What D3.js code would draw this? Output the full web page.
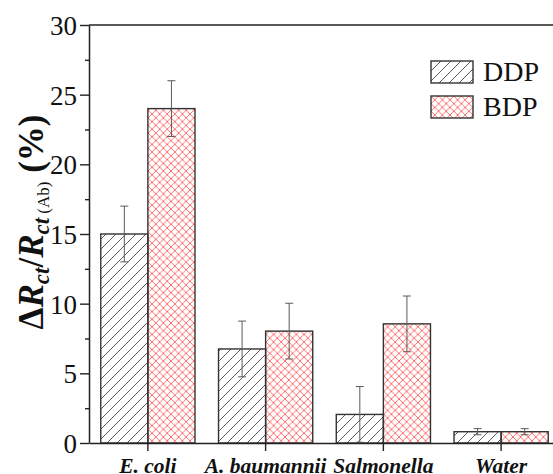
<!DOCTYPE html>
<html>
<head>
<meta charset="utf-8">
<script src="https://cdn.jsdelivr.net/npm/d3@7"></script>
<style>
  body { margin: 0; background: #fff; }
</style>
</head>
<body>
<svg id="chart" width="553" height="474" font-family="Liberation Serif"></svg>
<script>
// data
var categories = ["E. coli", "A. baumannii", "Salmonella", "Water"];
var series = ["DDP", "BDP"];
var ddpValues = [15, 6.75, 2.05, 0.81];
var ddpErrors = [2, 2, 2, 0.22];
var bdpValues = [24, 8.03, 8.55, 0.81];
var bdpErrors = [2, 2, 2, 0.22];
var yTicks = [0, 5, 10, 15, 20, 25, 30];
var yMinorTicks = [2.5, 7.5, 12.5, 17.5, 22.5, 27.5];

var FONT = "Liberation Serif";
var svg = d3.select("#chart");

var x = d3.scaleBand().domain(categories).range([89, 560]).padding(0);
var y = d3.scaleLinear().domain([0, 30]).range([443, 25]);
var barW = x.bandwidth() * 0.4;

/* hatch patterns */
var defs = svg.append("defs");
var p1 = defs.append("pattern")
    .attr("id", "hatchDDP")
    .attr("patternUnits", "userSpaceOnUse")
    .attr("width", 10).attr("height", 10);
p1.append("path")
    .attr("d", "M-1,1 l2,-2 M0,10 l10,-10 M9,11 l2,-2")
    .attr("stroke", "#333").attr("stroke-width", 0.8);

var p2 = defs.append("pattern")
    .attr("id", "hatchBDP")
    .attr("patternUnits", "userSpaceOnUse")
    .attr("width", 7.6).attr("height", 7.6);
p2.append("path")
    .attr("d", "M0,7.6 L7.6,0 M-1,1 l2,-2 M6.6,8.6 l2,-2 M0,0 L7.6,7.6 M-1,6.6 l2,2 M6.6,-1 l2,2")
    .attr("stroke", "#ff2020").attr("stroke-opacity", 0.8).attr("stroke-width", 0.8);

var rows = [];
categories.forEach(function(c, i) {
    rows.push({cat: c, s: "DDP", v: ddpValues[i], e: ddpErrors[i], off: -barW});
    rows.push({cat: c, s: "BDP", v: bdpValues[i], e: bdpErrors[i], off: 0});
});

var fillFor = function(s) { return s == "DDP" ? "url(#hatchDDP)" : "url(#hatchBDP)"; };

svg.append("g").selectAll("rect")
    .data(rows)
    .enter().append("rect")
    .attr("x", function(d) { return x(d.cat) + x.bandwidth() / 2 + d.off; })
    .attr("y", function(d) { return y(d.v); })
    .attr("width", barW)
    .attr("height", function(d) { return y(0) - y(d.v); })
    .attr("fill", "#fff");

svg.append("g").selectAll("rect")
    .data(rows)
    .enter().append("rect")
    .attr("x", function(d) { return x(d.cat) + x.bandwidth() / 2 + d.off; })
    .attr("y", function(d) { return y(d.v); })
    .attr("width", barW)
    .attr("height", function(d) { return y(0) - y(d.v); })
    .attr("fill", function(d) { return fillFor(d.s); })
    .attr("stroke", "#333")
    .attr("stroke-width", 1.4);

/* error bars */
var eb = svg.append("g").attr("stroke", "#5a5a5a").attr("stroke-width", 1);
rows.forEach(function(d) {
    var cx = x(d.cat) + x.bandwidth() / 2 + d.off + barW / 2;
    var lo = Math.max(0, d.v - d.e), hi = d.v + d.e;
    eb.append("line").attr("x1", cx).attr("x2", cx).attr("y1", y(lo)).attr("y2", y(hi));
    eb.append("line").attr("x1", cx - 4).attr("x2", cx + 4).attr("y1", y(hi)).attr("y2", y(hi));
    eb.append("line").attr("x1", cx - 4).attr("x2", cx + 4).attr("y1", y(lo)).attr("y2", y(lo));
});

/* axes */
var yAxis = svg.append("g")
    .attr("transform", "translate(89,0)")
    .call(d3.axisLeft(y).tickValues(yTicks).tickSize(9).tickPadding(3).tickSizeOuter(0));
yAxis.attr("font-family", FONT);
yAxis.select(".domain").attr("stroke", "#222").attr("stroke-width", 1.5);
yAxis.selectAll(".tick line").attr("stroke", "#222").attr("stroke-width", 1.4);
yAxis.selectAll(".tick text")
    .attr("font-family", FONT)
    .attr("font-size", 27)
    .attr("fill", "#111")
    .attr("dy", "0.35em");

svg.append("g")
    .attr("transform", "translate(89,0)")
    .call(d3.axisLeft(y).tickValues(yMinorTicks).tickSize(4).tickFormat("").tickSizeOuter(0))
    .call(function(g) { g.select(".domain").remove(); })
    .selectAll(".tick line").attr("stroke", "#222").attr("stroke-width", 1.4);

var xAxis = svg.append("g")
    .attr("transform", "translate(0,443)")
    .call(d3.axisBottom(x).tickSize(8).tickPadding(7).tickSizeOuter(0));
xAxis.attr("font-family", FONT);
xAxis.select(".domain").attr("stroke", "#222").attr("stroke-width", 1.5);
xAxis.selectAll(".tick line").attr("stroke", "#222").attr("stroke-width", 1.4);
xAxis.selectAll(".tick text")
    .attr("font-family", FONT)
    .attr("font-size", 21.5)
    .attr("font-weight", "bold")
    .attr("font-style", "italic")
    .attr("fill", "#111");

// top frame line
svg.append("line")
    .attr("x1", 89).attr("x2", 560)
    .attr("y1", y(30)).attr("y2", y(30))
    .attr("stroke", "#222").attr("stroke-width", 1.5);

/* y label */
var lab = svg.append("text")
    .attr("transform", "translate(43,222) rotate(-90)")
    .attr("text-anchor", "middle")
    .attr("font-family", FONT)
    .attr("font-size", 35)
    .attr("font-weight", "bold")
    .attr("fill", "#111");
lab.append("tspan").text("Δ");
lab.append("tspan").attr("font-style", "italic").text("R");
lab.append("tspan").attr("font-style", "italic").attr("font-size", 23).attr("dy", 6).text("ct");
lab.append("tspan").attr("dy", -6).text("/");
lab.append("tspan").attr("font-style", "italic").text("R");
lab.append("tspan").attr("font-style", "italic").attr("font-size", 23).attr("dy", 6).text("ct");
lab.append("tspan").attr("font-size", 17).attr("font-weight", "normal").text(" (Ab)");
lab.append("tspan").attr("dy", -6).text(" (%)");

/* legend */
var legend = svg.append("g").selectAll("g")
    .data(series)
    .enter().append("g")
    .attr("transform", function(d, i) { return "translate(431," + (61 + i * 35) + ")"; });
legend.append("rect")
    .attr("width", 42).attr("height", 22)
    .attr("fill", function(d) { return fillFor(d); })
    .attr("stroke", "#333").attr("stroke-width", 1.4);
legend.append("text")
    .attr("x", 52).attr("y", 20)
    .attr("font-family", FONT)
    .attr("font-size", 28)
    .attr("fill", "#111")
    .text(function(d) { return d; });
</script>
</body>
</html>
